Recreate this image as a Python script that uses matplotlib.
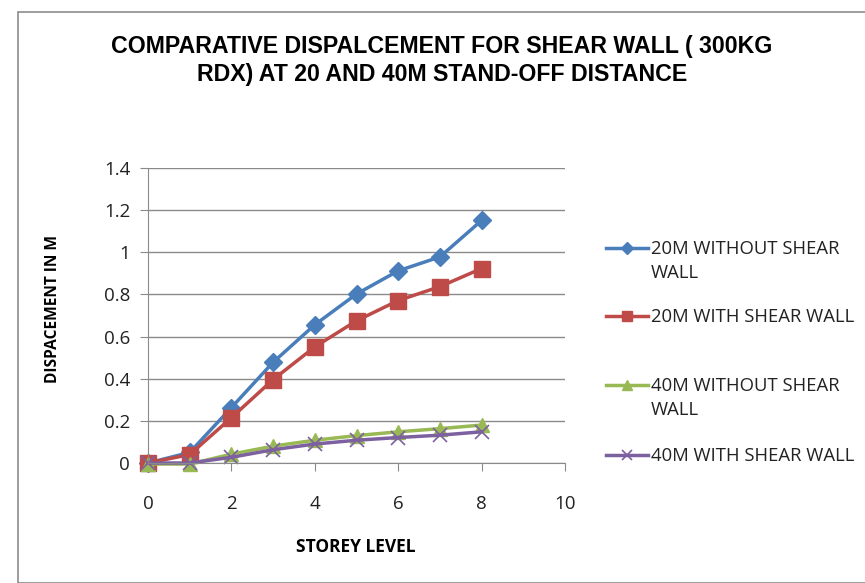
import matplotlib
matplotlib.use("Agg")
import matplotlib.pyplot as plt
from matplotlib.lines import Line2D
from matplotlib.patches import Rectangle
from matplotlib import font_manager

storey = [0, 1, 2, 3, 4, 5, 6, 7, 8]
d20_without = [0.0, 0.05, 0.263, 0.478, 0.656, 0.802, 0.912, 0.978, 1.151]
d20_with = [0.0, 0.04, 0.215, 0.396, 0.551, 0.675, 0.771, 0.837, 0.923]
d40_without = [-0.005, -0.005, 0.042, 0.08, 0.108, 0.13, 0.148, 0.163, 0.18]
d40_with = [0.0, 0.0, 0.027, 0.063, 0.09, 0.108, 0.121, 0.132, 0.148]

labels = ["20M WITHOUT SHEAR\nWALL", "20M WITH SHEAR WALL",
          "40M WITHOUT SHEAR\nWALL", "40M WITH SHEAR WALL"]
xticks = [0, 2, 4, 6, 8, 10]
yticks = [0, 0.2, 0.4, 0.6, 0.8, 1, 1.2, 1.4]
ytick_labels = ["0", "0.2", "0.4", "0.6", "0.8", "1", "1.2", "1.4"]

names = {f.name for f in font_manager.fontManager.ttflist}
title_font = "Liberation Sans Narrow" if "Liberation Sans Narrow" in names else "Liberation Sans"
body_font = "Open Sans"

W, H = 865, 583
fig = plt.figure(figsize=(W / 100, H / 100), dpi=100)

# outer chart frame
fig.patches.append(Rectangle((18 / W, 0), 1, 1 - 12 / H, transform=fig.transFigure,
                             fill=False, edgecolor="#8c8c8c", lw=1.2))

ax = fig.add_axes([148 / W, 1 - 463 / H, (565 - 148) / W, (463 - 168) / H])

styles = [
    dict(color="#4a7ebb", marker="D", ms=9),
    dict(color="#be4b48", marker="s", ms=11),
    dict(color="#98b954", marker="^", ms=10.5),
    dict(color="#7d60a0", marker="x", ms=10, mew=1.2),
]
series = [d20_without, d20_with, d40_without, d40_with]
for vals, st in zip(series, styles):
    ax.plot(storey, vals, lw=2.5, clip_on=False, **st)

ax.set_xlim(0, 10)
ax.set_ylim(0, 1.4)
ax.set_xticks(xticks)
ax.set_yticks(yticks)
ax.set_yticklabels(ytick_labels)
ax.grid(axis="y", color="#8a8a8a", lw=1)
ax.set_axisbelow(True)
for s in ["top", "right"]:
    ax.spines[s].set_visible(False)
for s in ["left", "bottom"]:
    ax.spines[s].set_color("#8a8a8a")
ax.tick_params(axis="both", direction="out", length=5.8, color="#8a8a8a",
               labelsize=13.5, labelcolor="#222222")
for lab in ax.get_xticklabels() + ax.get_yticklabels():
    lab.set_fontfamily(body_font)
ax.tick_params(axis="x", pad=17)
ax.tick_params(axis="y", pad=7)

ax.set_xlabel("STOREY LEVEL", fontfamily=body_font, fontweight="bold", fontsize=12.5)
ax.set_ylabel("DISPACEMENT IN M", fontfamily=body_font, fontweight="bold", fontsize=11.2)
ax.xaxis.set_label_coords((356 - 148) / 417, (463 - 538) / 295)
ax.yaxis.set_label_coords((61 - 148) / 417, 0.5 - (309 - 315.5) / 295)

fig.text(442 / W, 1 - 47 / H, "COMPARATIVE DISPALCEMENT FOR SHEAR WALL ( 300KG",
         ha="center", va="center", fontfamily=title_font, fontweight="bold", fontsize=16.7)
fig.text(442 / W, 1 - 75 / H, "RDX) AT 20 AND 40M STAND-OFF DISTANCE",
         ha="center", va="center", fontfamily=title_font, fontweight="bold", fontsize=16.7)

# legend entries, handle aligned with the first text line
legend_y = [248, 316, 385, 455]
for lab, st, y in zip(labels, styles, legend_y):
    yf = 1 - y / H
    fig.add_artist(Line2D([606 / W, 648 / W], [yf, yf], transform=fig.transFigure,
                          lw=2.5, color=st["color"]))
    mk = dict(st)
    mk["ms"] = st["ms"] * 0.7
    fig.add_artist(Line2D([627 / W], [yf], transform=fig.transFigure, ls="none", **mk))
    fig.text(651 / W, yf + 8 / H, lab, ha="left", va="top", fontfamily=body_font,
             fontsize=13.3, color="#222222", linespacing=1.45)

fig.savefig("out.png", dpi=100)
